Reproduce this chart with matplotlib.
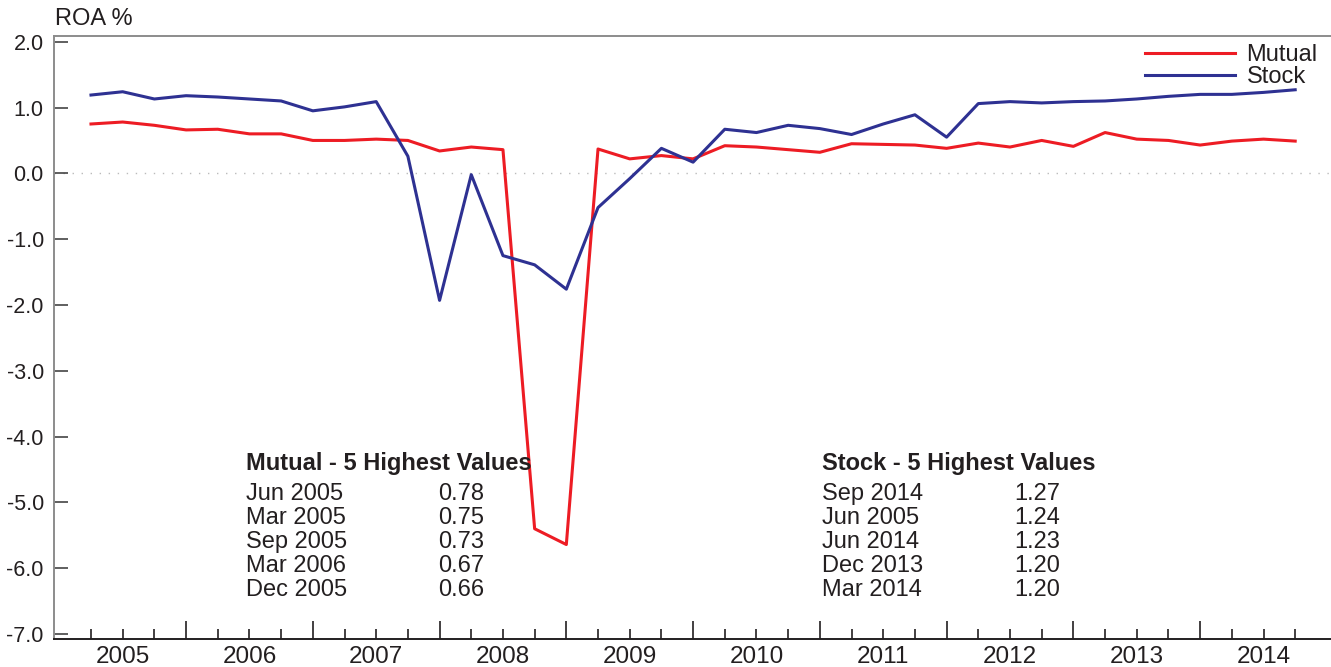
import numpy as np
import matplotlib
matplotlib.use("Agg")
import matplotlib.pyplot as plt

plt.rcParams['font.family'] = ['Liberation Sans', 'DejaVu Sans']

# Quarterly return on assets (%), Mar 2005 - Sep 2014
months = ["Mar", "Jun", "Sep", "Dec"]
years = list(range(2005, 2015))
quarters = [f"{m} {y}" for y in years for m in months][:39]

mutual = [0.75, 0.78, 0.73, 0.66,
          0.67, 0.60, 0.60, 0.50,
          0.50, 0.52, 0.50, 0.34,
          0.40, 0.36, -5.40, -5.64,
          0.37, 0.22, 0.27, 0.22,
          0.42, 0.40, 0.36, 0.32,
          0.45, 0.44, 0.43, 0.38,
          0.46, 0.40, 0.50, 0.41,
          0.62, 0.52, 0.50, 0.43,
          0.49, 0.52, 0.49]

stock = [1.19, 1.24, 1.13, 1.18,
         1.16, 1.13, 1.10, 0.95,
         1.01, 1.09, 0.26, -1.93,
         -0.02, -1.25, -1.39, -1.76,
         -0.52, -0.08, 0.38, 0.17,
         0.67, 0.62, 0.73, 0.68,
         0.59, 0.75, 0.89, 0.55,
         1.06, 1.09, 1.07, 1.09,
         1.10, 1.13, 1.17, 1.20,
         1.20, 1.23, 1.27]

y_ticks = [-7.0, -6.0, -5.0, -4.0, -3.0, -2.0, -1.0, 0.0, 1.0, 2.0]

RED = "#ED1C24"
BLUE = "#2E3192"
INK = "#231F20"
GRAY = "#8C8C8C"

W, H = 1331, 667
fig = plt.figure(figsize=(W / 100, H / 100), dpi=100)
ax = fig.add_axes([53.5 / W, 1 - 639.3 / H, 1 - 53.5 / W, (639.3 - 36) / H])

x = np.arange(len(quarters))
ax.axhline(0, color="#BBBBBB", lw=1.0, linestyle=(0, (1, 5.5)), zorder=1)
ax.plot(x, mutual, color=RED, lw=2.2, label="Mutual", zorder=3)
ax.plot(x, stock, color=BLUE, lw=2.2, label="Stock", zorder=3)

ax.set_xlim(-1.183, 39.13)
ax.set_ylim(-7.08, 2.087)

# y axis
ax.set_yticks(y_ticks, labels=[f"{v:.1f}" for v in y_ticks])
ax.tick_params(axis="y", direction="in", length=10, width=1.2, color="#444444",
               labelsize=15.5, labelcolor=INK, pad=7)

# x axis: long ticks at year end, short ticks at other quarters, year under June
dec_pos = [i for i, q in enumerate(quarters) if q.startswith("Dec")]
other_pos = [i for i, q in enumerate(quarters) if not q.startswith("Dec")]
other_lab = [q.split()[1] if q.startswith("Jun") else "" for q in quarters if not q.startswith("Dec")]
ax.set_xticks(dec_pos, labels=[""] * len(dec_pos))
ax.set_xticks(other_pos, labels=other_lab, minor=True)
ax.tick_params(axis="x", which="major", direction="in", length=13, width=1.2, color=INK)
ax.tick_params(axis="x", which="minor", direction="in", length=7.2, width=1.2, color=INK,
               labelsize=17.5, labelcolor=INK, pad=4.5)

for side in ("left", "top"):
    ax.spines[side].set_color(GRAY)
    ax.spines[side].set_linewidth(1.4)
ax.spines["bottom"].set_color(INK)
ax.spines["bottom"].set_linewidth(1.4)
ax.spines["right"].set_visible(False)

fig.text(55 / W, 1 - 25 / H, "ROA %", fontsize=17, color=INK, va="baseline")

leg = ax.legend(loc="upper left", bbox_to_anchor=(1145 / W, 1 - 44 / H),
                bbox_transform=fig.transFigure, frameon=False, fontsize=17,
                handlelength=3.8, handletextpad=0.5, labelspacing=0.0,
                borderpad=0, borderaxespad=0)
for t in leg.get_texts():
    t.set_color(INK)


def top_five(values):
    order = sorted(range(len(values)), key=lambda i: -values[i])
    return [(quarters[i], values[i]) for i in order[:5]]


def draw_table(x0, x1, title, values):
    fig.text(x0 / W, 1 - 470 / H, title, fontsize=17, fontweight="bold",
             color=INK, va="baseline")
    for k, (q, v) in enumerate(top_five(values)):
        yb = 1 - (500 + 24 * k) / H
        fig.text(x0 / W, yb, q, fontsize=17, color=INK, va="baseline")
        fig.text(x1 / W, yb, f"{v:.2f}", fontsize=17, color=INK, va="baseline")


draw_table(246, 438, "Mutual - 5 Highest Values", mutual)
draw_table(822, 1014, "Stock - 5 Highest Values", stock)

fig.savefig("out.png", dpi=100)
